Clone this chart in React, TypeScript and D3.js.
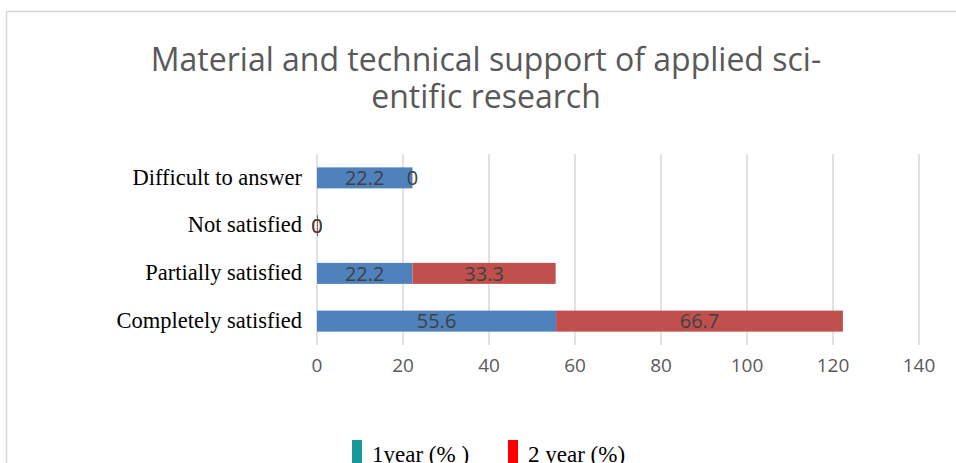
import React, { useEffect, useRef } from 'react'
import * as d3 from 'd3'

const categories = ['Completely satisfied', 'Partially satisfied', 'Not satisfied', 'Difficult to answer']
const year1 = [55.6, 22.2, 0, 22.2]
const year2 = [66.7, 33.3, 0, 0]
const xTicks = [0, 20, 40, 60, 80, 100, 120, 140]
const seriesNames = ['1year (% )', '2 year (%)']

const W = 956
const H = 463

const App: React.FC = () => {
  const svgRef = useRef<SVGSVGElement>(null)

  useEffect(() => {
    if (!svgRef.current) return
    const svg = d3.select(svgRef.current)
    svg.selectAll('*').remove()

    // chart frame
    svg.append('rect')
      .attr('x', 6.5).attr('y', 11.5)
      .attr('width', W + 20).attr('height', H + 20)
      .attr('fill', '#fff')
      .attr('stroke', '#d9d9d9')
      .attr('stroke-width', 1.5)

    // title
    const title = svg.append('text')
      .attr('text-anchor', 'middle')
      .attr('fill', '#595959')
      .style('font-family', '"Open Sans", sans-serif')
      .style('font-size', '32px')
    title.append('tspan').attr('x', 486).attr('y', 71).text('Material and technical support of applied sci-')
    title.append('tspan').attr('x', 486).attr('y', 108).text('entific research')

    const x = d3.scaleLinear().domain([0, 140]).range([317, 919])
    const y = d3.scaleBand<string>()
      .domain([...categories].reverse())
      .range([154, 345])
      .paddingInner(0.56)
      .paddingOuter(0.28)

    // gridlines
    svg.append('g')
      .selectAll('line')
      .data(xTicks)
      .enter()
      .append('line')
      .attr('x1', d => x(d)).attr('x2', d => x(d))
      .attr('y1', 154).attr('y2', 345)
      .attr('stroke', '#d9d9d9')
      .attr('stroke-width', 1.5)

    // tick labels
    svg.append('g')
      .selectAll('text')
      .data(xTicks)
      .enter()
      .append('text')
      .attr('x', d => x(d))
      .attr('y', 372)
      .attr('text-anchor', 'middle')
      .attr('fill', '#595959')
      .style('font-family', '"Open Sans", sans-serif')
      .style('font-size', '19px')
      .text(d => d)

    // category labels
    svg.append('g')
      .selectAll('text')
      .data(categories)
      .enter()
      .append('text')
      .attr('x', 302)
      .attr('y', d => (y(d) as number) + y.bandwidth() / 2)
      .attr('dy', '0.3em')
      .attr('text-anchor', 'end')
      .attr('fill', '#000')
      .style('font-family', '"Liberation Serif", serif')
      .style('font-size', '22.5px')
      .text(d => d)

    const colors = ['#4f81bd', '#c0504d']
    const series = [year1, year2]
    series.forEach((vals, si) => {
      const g = svg.append('g')
      const starts = categories.map((_, i) => (si === 0 ? 0 : year1[i]))
      g.selectAll('rect')
        .data(categories)
        .enter()
        .append('rect')
        .attr('x', (_, i) => x(starts[i]))
        .attr('y', d => y(d) as number)
        .attr('width', (_, i) => Math.max(x(starts[i] + vals[i]) - x(starts[i]), vals[i] === 0 && i === 2 && si === 1 ? 1 : 0))
        .attr('height', y.bandwidth())
        .attr('fill', colors[si])
      g.selectAll('text')
        .data(categories)
        .enter()
        .append('text')
        .attr('x', (_, i) => x(starts[i] + vals[i] / 2))
        .attr('y', d => (y(d) as number) + y.bandwidth() / 2)
        .attr('dy', '0.36em')
        .attr('text-anchor', 'middle')
        .attr('fill', '#404040')
        .style('font-family', '"Open Sans", sans-serif')
        .style('font-size', '20px')
        .text((_, i) => vals[i])
    })

    // legend
    const legendColors = ['#17989a', '#ff0000']
    const legendX = [352, 508]
    seriesNames.forEach((name, i) => {
      svg.append('rect')
        .attr('x', legendX[i]).attr('y', 440)
        .attr('width', 10).attr('height', 25)
        .attr('fill', legendColors[i])
      svg.append('text')
        .attr('x', legendX[i] + 20)
        .attr('y', 462)
        .attr('fill', '#000')
        .style('font-family', '"Liberation Serif", serif')
        .style('font-size', '23px')
        .text(name)
    })
  }, [])

  return (
    <div style={{ position: 'fixed', left: 0, top: 0 }}>
      <svg ref={svgRef} width={W} height={H} style={{ display: 'block' }}></svg>
    </div>
  )
}

export default App
